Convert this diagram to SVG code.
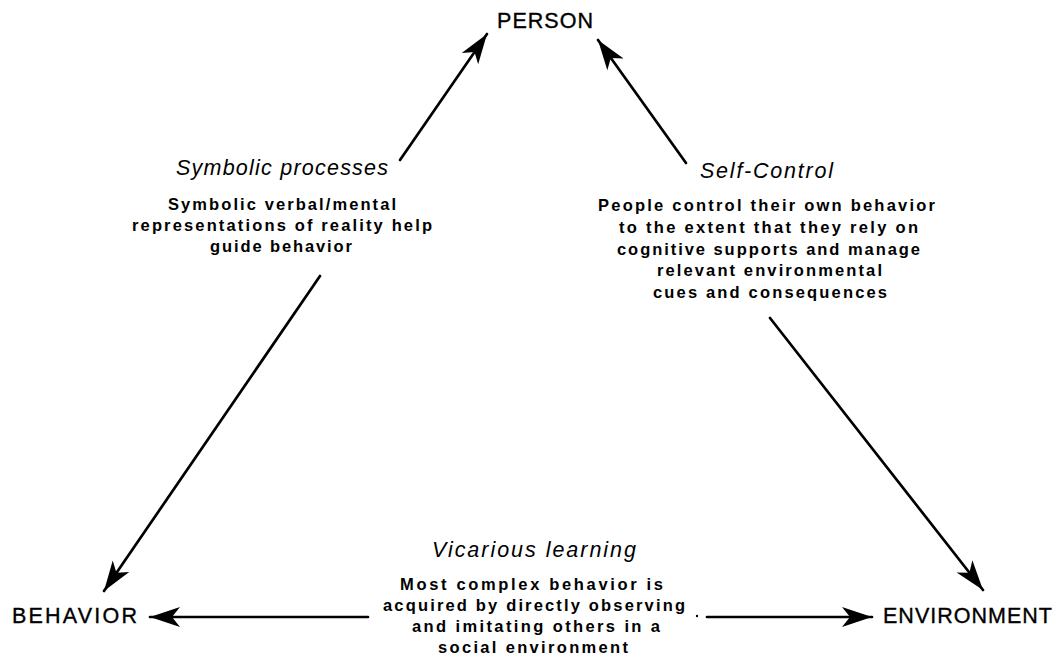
<svg xmlns="http://www.w3.org/2000/svg" width="1059" height="657" viewBox="0 0 1059 657">
<style>
.node{font-family:"Liberation Sans",Arial,sans-serif;font-size:21.5px;fill:#000;stroke:#000;stroke-width:0.35}
.title{font-family:"Liberation Sans",Arial,sans-serif;font-style:italic;font-size:21.5px;fill:#000}
.body{font-family:"Liberation Sans",Arial,sans-serif;font-weight:bold;font-size:16.5px;fill:#000}
.conn{stroke:#000;stroke-width:2.7;fill:none;stroke-linecap:round}
</style>
<defs>
<marker id="ah" markerUnits="userSpaceOnUse" markerWidth="40" markerHeight="30" viewBox="-32 -15 34 30" refX="0" refY="0" orient="auto">
<path d="M0,0 L-30,-10 L-22,0 L-30,10 Z" fill="#000"/>
</marker>
</defs>
<rect width="1059" height="657" fill="#fff"/>
<g id="connectors">
<line class="conn" x1="400" y1="160" x2="487" y2="34" marker-end="url(#ah)"/>
<line class="conn" x1="686" y1="163" x2="598" y2="40" marker-end="url(#ah)"/>
<line class="conn" x1="320" y1="276" x2="104" y2="591" marker-end="url(#ah)"/>
<line class="conn" x1="770" y1="318" x2="983" y2="590" marker-end="url(#ah)"/>
<line class="conn" x1="368" y1="617" x2="150" y2="617" marker-end="url(#ah)"/>
<line class="conn" x1="707" y1="617" x2="872" y2="617" marker-end="url(#ah)"/>
<circle cx="697" cy="616" r="1.2" fill="#000"/>
</g>
<g id="person"><text class="node" x="497" y="28" textLength="96" lengthAdjust="spacing">PERSON</text></g>
<g id="behavior"><text class="node" x="12" y="623" textLength="125" lengthAdjust="spacing">BEHAVIOR</text></g>
<g id="environment"><text class="node" x="883" y="623" textLength="169" lengthAdjust="spacing">ENVIRONMENT</text></g>
<g id="symbolic-processes">
<text class="title" x="176" y="175" textLength="212" lengthAdjust="spacing">Symbolic processes</text>
<text class="body" x="168" y="210" textLength="228" lengthAdjust="spacing">Symbolic verbal/mental</text>
<text class="body" x="132" y="231" textLength="300" lengthAdjust="spacing">representations of reality help</text>
<text class="body" x="210" y="252" textLength="142" lengthAdjust="spacing">guide behavior</text>
</g>
<g id="self-control">
<text class="title" x="700" y="178" textLength="133" lengthAdjust="spacing">Self-Control</text>
<text class="body" x="598" y="211" textLength="337" lengthAdjust="spacing">People control their own behavior</text>
<text class="body" x="619" y="233" textLength="299" lengthAdjust="spacing">to the extent that they rely on</text>
<text class="body" x="617" y="255" textLength="303" lengthAdjust="spacing">cognitive supports and manage</text>
<text class="body" x="657" y="276" textLength="225" lengthAdjust="spacing">relevant environmental</text>
<text class="body" x="653" y="298" textLength="234" lengthAdjust="spacing">cues and consequences</text>
</g>
<g id="vicarious-learning">
<text class="title" x="432" y="557" textLength="204" lengthAdjust="spacing">Vicarious learning</text>
<text class="body" x="400" y="590" textLength="263" lengthAdjust="spacing">Most complex behavior is</text>
<text class="body" x="383" y="611" textLength="302" lengthAdjust="spacing">acquired by directly observing</text>
<text class="body" x="412" y="632" textLength="248" lengthAdjust="spacing">and imitating others in a</text>
<text class="body" x="438" y="653" textLength="190" lengthAdjust="spacing">social environment</text>
</g>
</svg>
